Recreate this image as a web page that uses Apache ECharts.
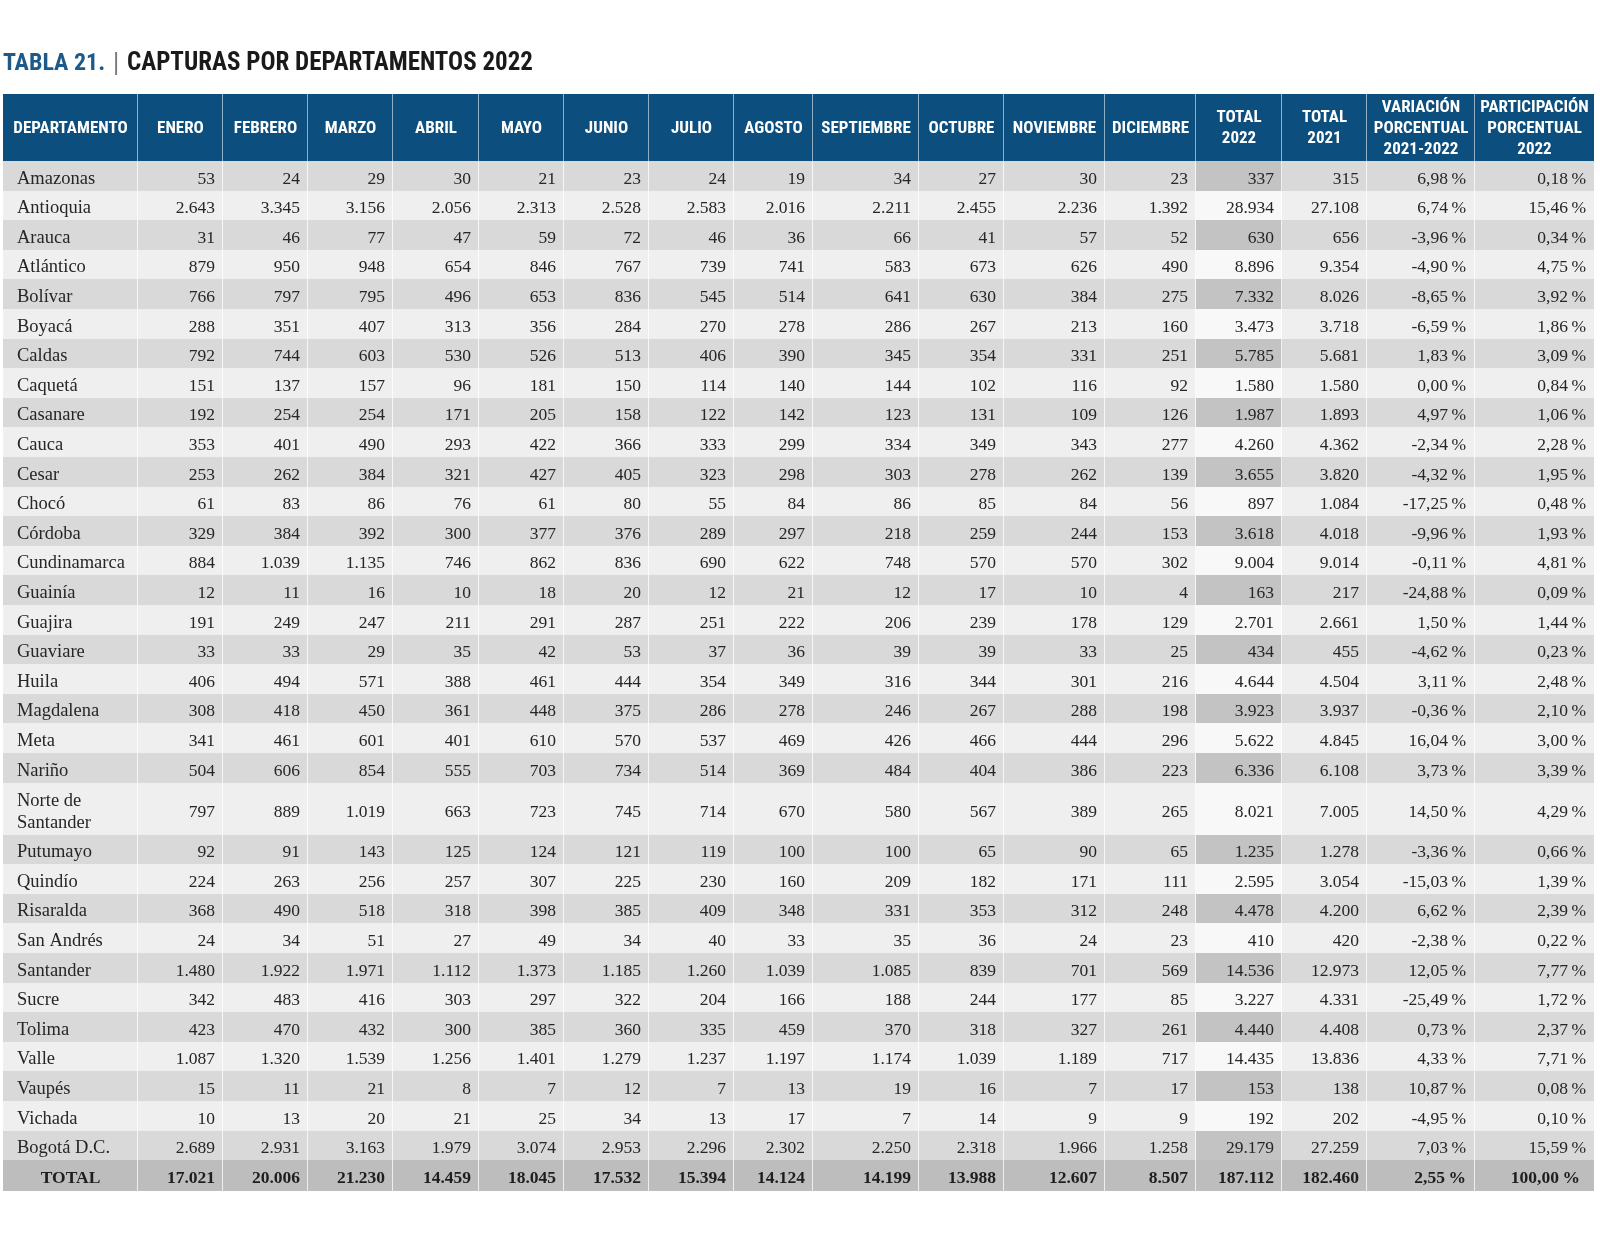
<!DOCTYPE html>
<html><head><meta charset="utf-8">
<script src="https://cdn.jsdelivr.net/npm/echarts@6/dist/echarts.min.js"></script>
<style>html,body{margin:0;padding:0;background:#fff}#c{width:1600px;height:1253px}</style>
</head><body><div id="c"></div>
<script>
// ---------------- DATA ----------------
const departamentos = ['Amazonas','Antioquia','Arauca','Atlántico','Bolívar','Boyacá','Caldas','Caquetá','Casanare','Cauca','Cesar','Chocó','Córdoba','Cundinamarca','Guainía','Guajira','Guaviare','Huila','Magdalena','Meta','Nariño','Norte de\nSantander','Putumayo','Quindío','Risaralda','San Andrés','Santander','Sucre','Tolima','Valle','Vaupés','Vichada','Bogotá D.C.'];
const encabezados = ['DEPARTAMENTO','ENERO','FEBRERO','MARZO','ABRIL','MAYO','JUNIO','JULIO','AGOSTO','SEPTIEMBRE','OCTUBRE','NOVIEMBRE','DICIEMBRE','TOTAL\n2022','TOTAL\n2021','VARIACIÓN\nPORCENTUAL\n2021-2022','PARTICIPACIÓN\nPORCENTUAL\n2022'];
const enero      = [53,2643,31,879,766,288,792,151,192,353,253,61,329,884,12,191,33,406,308,341,504,797,92,224,368,24,1480,342,423,1087,15,10,2689];
const febrero    = [24,3345,46,950,797,351,744,137,254,401,262,83,384,1039,11,249,33,494,418,461,606,889,91,263,490,34,1922,483,470,1320,11,13,2931];
const marzo      = [29,3156,77,948,795,407,603,157,254,490,384,86,392,1135,16,247,29,571,450,601,854,1019,143,256,518,51,1971,416,432,1539,21,20,3163];
const abril      = [30,2056,47,654,496,313,530,96,171,293,321,76,300,746,10,211,35,388,361,401,555,663,125,257,318,27,1112,303,300,1256,8,21,1979];
const mayo       = [21,2313,59,846,653,356,526,181,205,422,427,61,377,862,18,291,42,461,448,610,703,723,124,307,398,49,1373,297,385,1401,7,25,3074];
const junio      = [23,2528,72,767,836,284,513,150,158,366,405,80,376,836,20,287,53,444,375,570,734,745,121,225,385,34,1185,322,360,1279,12,34,2953];
const julio      = [24,2583,46,739,545,270,406,114,122,333,323,55,289,690,12,251,37,354,286,537,514,714,119,230,409,40,1260,204,335,1237,7,13,2296];
const agosto     = [19,2016,36,741,514,278,390,140,142,299,298,84,297,622,21,222,36,349,278,469,369,670,100,160,348,33,1039,166,459,1197,13,17,2302];
const septiembre = [34,2211,66,583,641,286,345,144,123,334,303,86,218,748,12,206,39,316,246,426,484,580,100,209,331,35,1085,188,370,1174,19,7,2250];
const octubre    = [27,2455,41,673,630,267,354,102,131,349,278,85,259,570,17,239,39,344,267,466,404,567,65,182,353,36,839,244,318,1039,16,14,2318];
const noviembre  = [30,2236,57,626,384,213,331,116,109,343,262,84,244,570,10,178,33,301,288,444,386,389,90,171,312,24,701,177,327,1189,7,9,1966];
const diciembre  = [23,1392,52,490,275,160,251,92,126,277,139,56,153,302,4,129,25,216,198,296,223,265,65,111,248,23,569,85,261,717,17,9,1258];
const total2022  = [337,28934,630,8896,7332,3473,5785,1580,1987,4260,3655,897,3618,9004,163,2701,434,4644,3923,5622,6336,8021,1235,2595,4478,410,14536,3227,4440,14435,153,192,29179];
const total2021  = [315,27108,656,9354,8026,3718,5681,1580,1893,4362,3820,1084,4018,9014,217,2661,455,4504,3937,4845,6108,7005,1278,3054,4200,420,12973,4331,4408,13836,138,202,27259];
const variacion  = [6.98,6.74,-3.96,-4.90,-8.65,-6.59,1.83,0.00,4.97,-2.34,-4.32,-17.25,-9.96,-0.11,-24.88,1.50,-4.62,3.11,-0.36,16.04,3.73,14.50,-3.36,-15.03,6.62,-2.38,12.05,-25.49,0.73,4.33,10.87,-4.95,7.03];
const participacion = [0.18,15.46,0.34,4.75,3.92,1.86,3.09,0.84,1.06,2.28,1.95,0.48,1.93,4.81,0.09,1.44,0.23,2.48,2.10,3.00,3.39,4.29,0.66,1.39,2.39,0.22,7.77,1.72,2.37,7.71,0.08,0.10,15.59];
const etiquetaTotal = 'TOTAL';
const totalesMes = [17021,20006,21230,14459,18045,17532,15394,14124,14199,13988,12607,8507];
const totalGeneral2022 = 187112;
const totalGeneral2021 = 182460;
const variacionTotal = 2.55;
const participacionTotal = 100.00;

// ---------------- LAYOUT / STYLE ----------------
const colWidths = [135,84.5,85.5,85,85.5,85,85.5,85,78.5,106.5,85,100.5,91.5,86,85,107.5,119.5];
const headerH = 67, rowH = 29.6, tallRowH = 52, totalRowH = 31;
const HF = '"Roboto Condensed","Liberation Sans Narrow","DejaVu Sans Condensed","Arial Narrow",sans-serif';
const BF = '"Liberation Serif","Times New Roman",serif';
const C = {
  header:'#0c4f7f', headerSep:'rgba(255,255,255,0.55)',
  dark:'#d9d9d9', light:'#efefef', darkTot:'#c3c3c3', lightTot:'#f8f8f8',
  totalRow:'#bdbdbd', sep:'rgba(255,255,255,0.75)', text:'#262626'
};

const fmtInt = n => String(n).replace(/\B(?=(\d{3})+(?!\d))/g, '.');
const fmtPct = v => v.toFixed(2).replace('.', ',') + '\u2009%';

// column edges
const colEdges = [0];
colWidths.forEach(w => colEdges.push(colEdges[colEdges.length-1] + w));
const tableW = colEdges[colEdges.length-1];

const monthCols = [enero,febrero,marzo,abril,mayo,junio,julio,agosto,septiembre,octubre,noviembre,diciembre];

const cells = [], meta = [];
function addCell(c, y0, y1, text, m) {
  cells.push([colEdges[c], y0, colEdges[c+1], y1]);
  meta.push(Object.assign({text, sep: c < colWidths.length-1 ? C.sep : null, dy:3}, m));
}
// header
encabezados.forEach((h, c) => addCell(c, 0, headerH, h, {
  bg:C.header, sep: c < colWidths.length-1 ? C.headerSep : null, align:'center', color:'#ffffff',
  size:17, family:HF, weight:'bold', lh:21, dy:1
}));
// body
let y = headerH;
departamentos.forEach((d, r) => {
  const h = d.indexOf('\n') >= 0 ? tallRowH : rowH;
  const dark = r % 2 === 0;
  const bg = dark ? C.dark : C.light;
  const base = {color:C.text, size:17.5, family:BF, weight:'normal', lh:22};
  addCell(0, y, y+h, d, Object.assign({bg, align:'left', pad:14}, base, {size:18.5}));
  monthCols.forEach((arr, i) => addCell(i+1, y, y+h, fmtInt(arr[r]), Object.assign({bg, align:'right', pad:8}, base)));
  addCell(13, y, y+h, fmtInt(total2022[r]), Object.assign({bg: dark ? C.darkTot : C.lightTot, align:'right', pad:8}, base));
  addCell(14, y, y+h, fmtInt(total2021[r]), Object.assign({bg, align:'right', pad:8}, base));
  addCell(15, y, y+h, fmtPct(variacion[r]), Object.assign({bg, align:'right', pad:9}, base));
  addCell(16, y, y+h, fmtPct(participacion[r]), Object.assign({bg, align:'right', pad:8}, base));
  y += h;
});
// total row
{
  const base = {bg:C.totalRow, color:'#1e1e1e', size:17.5, family:BF, weight:'bold', lh:22};
  addCell(0, y, y+totalRowH, etiquetaTotal, Object.assign({align:'center'}, base));
  totalesMes.forEach((v, i) => addCell(i+1, y, y+totalRowH, fmtInt(v), Object.assign({align:'right', pad:8}, base)));
  addCell(13, y, y+totalRowH, fmtInt(totalGeneral2022), Object.assign({align:'right', pad:8}, base));
  addCell(14, y, y+totalRowH, fmtInt(totalGeneral2021), Object.assign({align:'right', pad:8}, base));
  addCell(15, y, y+totalRowH, fmtPct(variacionTotal), Object.assign({align:'right', pad:9}, base));
  addCell(16, y, y+totalRowH, fmtPct(participacionTotal), Object.assign({align:'right', pad:14}, base));
  y += totalRowH;
}
const tableH = y;

const chart = echarts.init(document.getElementById('c'), null, {renderer:'canvas'});
chart.setOption({
  animation:false,
  backgroundColor:'#ffffff',
  title:{
    left:3, top:48, padding:0,
    text:'{a|TABLA 21.}{s||}{b|CAPTURAS POR DEPARTAMENTOS 2022}',
    textStyle:{rich:{
      a:{color:'#1d5a8a', fontSize:24, fontWeight:'bold', fontFamily:HF, lineHeight:32},
      s:{color:'#7a7a7a', fontSize:23, fontWeight:'normal', fontFamily:'"DejaVu Sans",sans-serif', lineHeight:32, padding:[0,7,0,7]},
      b:{color:'#1a1a1a', fontSize:25, fontWeight:'bold', fontFamily:HF, lineHeight:32}
    }}
  },
  grid:{left:3, top:94, width:tableW, height:tableH},
  xAxis:{type:'value', min:0, max:tableW, show:false},
  yAxis:{type:'value', min:0, max:tableH, inverse:true, show:false},
  series:[{
    type:'custom', coordinateSystem:'cartesian2d', clip:false, silent:true,
    encode:{x:[0,2], y:[1,3]},
    data:cells,
    renderItem(params, api){
      const m = meta[params.dataIndex];
      const p0 = api.coord([api.value(0), api.value(1)]);
      const p1 = api.coord([api.value(2), api.value(3)]);
      const x0 = Math.round(p0[0]), y0 = Math.round(p0[1]), x1 = Math.round(p1[0]), y1 = Math.round(p1[1]);
      const children = [{type:'rect', shape:{x:x0, y:y0, width:x1-x0, height:y1-y0}, style:{fill:m.bg}}];
      if (m.sep) children.push({type:'line', shape:{x1:x1-0.5, y1:y0, x2:x1-0.5, y2:y1}, style:{stroke:m.sep, lineWidth:1}});
      const tx = m.align === 'left' ? x0 + m.pad : m.align === 'right' ? x1 - m.pad : (x0 + x1) / 2;
      children.push({type:'text', style:{
        text:m.text, x:tx, y:(y0+y1)/2 + m.dy,
        align:m.align, verticalAlign:'middle', textAlign:m.align, textVerticalAlign:'middle',
        fill:m.color, fontSize:m.size, fontFamily:m.family, fontWeight:m.weight, lineHeight:m.lh
      }});
      return {type:'group', children};
    }
  }]
});
</script></body></html>
